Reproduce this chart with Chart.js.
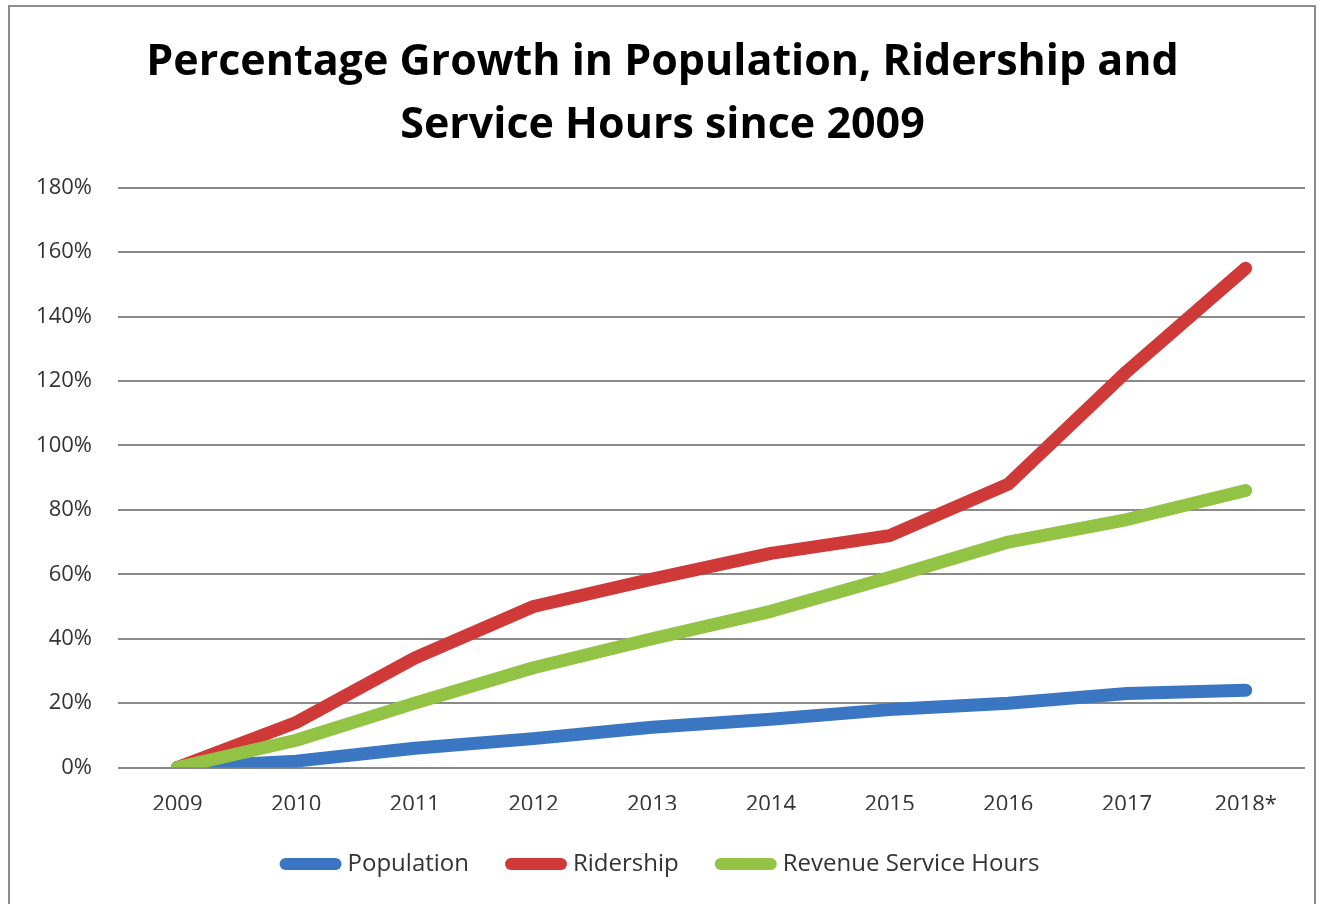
<!DOCTYPE html>
<html>
<head>
<meta charset="utf-8">
<script src="https://cdn.jsdelivr.net/npm/chart.js@4/dist/chart.umd.min.js"></script>
<style>
    html, body { margin: 0; padding: 0; background: #fff; }
    #frame {
        position: absolute; left: 8px; top: 5px; width: 1308px; height: 910px;
        border: 2px solid #8c8c8c; box-sizing: border-box;
    }
    #wrap { position: absolute; left: 0; top: 0; width: 1322px; height: 904px; }
</style>
</head>
<body>
<div id="frame"></div>
<div id="wrap"><canvas id="growthChart" width="1322" height="904"></canvas></div>
<script>
// Dados do gráfico
const anos = ['2009', '2010', '2011', '2012', '2013', '2014', '2015', '2016', '2017', '2018*'];
const populacao = [0, 2, 6, 9, 12.5, 15, 18, 20, 23, 24];
const passageiros = [0, 14, 34, 50, 58.5, 66.5, 72, 88, 123, 155];
const horasServico = [0, 8.5, 20, 31, 40, 48.5, 59, 70, 77, 86];
const titulo = ['Percentage Growth in Population, Ridership and', 'Service Hours since 2009'];

// Cores das séries
const CORES = {
    azul: '#3b76c2',
    vermelho: '#cf3a38',
    verde: '#93c344'
};

const FONTE = "'Open Sans', sans-serif";

function serie(label, data, cor, ordem) {
    return {
        label: label,
        data: data,
        borderColor: cor,
        backgroundColor: cor,
        borderWidth: 13,
        borderCapStyle: 'round',
        borderJoinStyle: 'round',
        pointRadius: 0,
        pointHoverRadius: 0,
        tension: 0,
        order: ordem
    };
}

const ctx = document.getElementById('growthChart').getContext('2d');
new Chart(ctx, {
    type: 'line',
    data: {
        labels: anos,
        datasets: [
            serie('Population', populacao, CORES.azul, 2),
            serie('Ridership', passageiros, CORES.vermelho, 1),
            serie('Revenue Service Hours', horasServico, CORES.verde, 0)
        ]
    },
    options: {
        responsive: false,
        animation: false,
        layout: { padding: { left: 20, right: 17, top: 0, bottom: 18 } },
        plugins: {
            title: {
                display: true,
                text: titulo,
                color: '#000',
                font: { family: FONTE, size: 43, weight: 'bold', lineHeight: 1.45 },
                padding: { top: 32, bottom: 31 }
            },
            legend: {
                position: 'bottom',
                labels: {
                    usePointStyle: true,
                    pointStyle: 'line',
                    pointStyleWidth: 50,
                    padding: 42,
                    color: '#333',
                    font: { family: FONTE, size: 24 },
                    // mantém a ordem original das séries e pontas arredondadas
                    generateLabels: chart => Chart.defaults.plugins.legend.labels.generateLabels(chart)
                        .map(l => ({ ...l, lineCap: 'round', lineWidth: 12 })),
                    sort: (a, b) => a.datasetIndex - b.datasetIndex
                }
            },
            tooltip: { enabled: false }
        },
        scales: {
            x: {
                offset: true,
                afterFit: scale => { scale.height -= 32; },
                grid: { display: false, drawTicks: false },
                border: { display: false },
                ticks: {
                    padding: 24,
                    color: '#333',
                    font: { family: FONTE, size: 22 }
                }
            },
            y: {
                min: 0,
                max: 180,
                afterFit: scale => { scale.width = 98; },
                grid: { color: '#8a8a8a', lineWidth: 2, drawTicks: false },
                border: { display: false },
                ticks: {
                    stepSize: 20,
                    padding: 26,
                    color: '#333',
                    font: { family: FONTE, size: 22 },
                    callback: v => v + '%'
                }
            }
        }
    }
});
</script>
</body>
</html>
